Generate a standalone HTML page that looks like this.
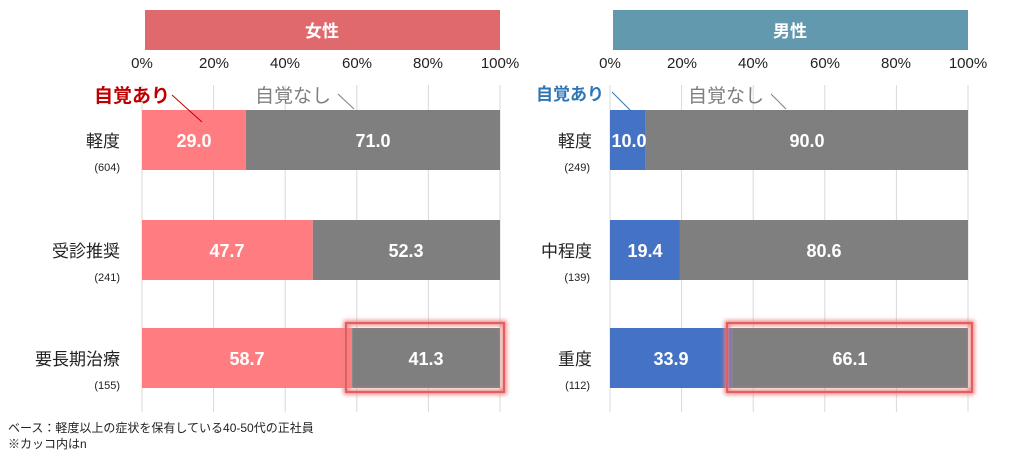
<!DOCTYPE html>
<html><head><meta charset="utf-8"><style>
body{margin:0;background:#fff;}
svg text{font-family:"Liberation Sans","Noto Sans CJK JP",sans-serif;}
</style></head><body>
<svg width="1020" height="470" viewBox="0 0 1020 470" xmlns="http://www.w3.org/2000/svg">
<defs><filter id="g" x="-10%" y="-20%" width="120%" height="140%"><feGaussianBlur stdDeviation="2"/></filter></defs>
<!-- LEFT -->
<rect x="145" y="10" width="355" height="40" fill="#e0696d"/>
<text x="322" y="37" font-size="17" fill="#fff" text-anchor="middle" font-weight="bold">女性</text>
<g font-size="15" fill="#222" text-anchor="middle">
<text x="142" y="68">0%</text><text x="214" y="68">20%</text><text x="285" y="68">40%</text><text x="357" y="68">60%</text><text x="428" y="68">80%</text><text x="500" y="68">100%</text>
</g>
<g stroke="#d9d9d9" stroke-width="1">
<line x1="142" y1="85" x2="142" y2="412"/><line x1="213.6" y1="85" x2="213.6" y2="412"/><line x1="285.2" y1="85" x2="285.2" y2="412"/><line x1="356.8" y1="85" x2="356.8" y2="412"/><line x1="428.4" y1="85" x2="428.4" y2="412"/><line x1="500" y1="85" x2="500" y2="412"/>
</g>
<rect x="142" y="110" width="103.8" height="60" fill="#ff7c80"/><rect x="245.8" y="110" width="254.2" height="60" fill="#7f7f7f"/>
<rect x="142" y="220" width="170.8" height="60" fill="#ff7c80"/><rect x="312.8" y="220" width="187.2" height="60" fill="#7f7f7f"/>
<rect x="142" y="328" width="210.1" height="60" fill="#ff7c80"/><rect x="352.1" y="328" width="147.9" height="60" fill="#7f7f7f"/>
<rect x="346" y="323" width="158" height="69" fill="none" stroke="#f08080" stroke-width="5" filter="url(#g)"/>
<rect x="346" y="323" width="158" height="69" fill="none" stroke="#e06060" stroke-width="2"/>
<g font-size="18" fill="#fff" font-weight="bold" text-anchor="middle">
<text x="194" y="147">29.0</text><text x="373" y="147">71.0</text>
<text x="227" y="257">47.7</text><text x="406" y="257">52.3</text>
<text x="247" y="365">58.7</text><text x="426" y="365">41.3</text>
</g>
<text x="94" y="102" font-size="19" fill="#c00000" font-weight="bold">自覚あり</text>
<line x1="172" y1="95" x2="202" y2="122" stroke="#c00000"/>
<text x="255" y="102" font-size="19" fill="#7f7f7f">自覚なし</text>
<line x1="338" y1="94" x2="354" y2="109" stroke="#7f7f7f"/>
<g font-size="17" fill="#222" text-anchor="end">
<text x="120" y="147">軽度</text><text x="120" y="257">受診推奨</text><text x="120" y="365">要長期治療</text>
</g>
<g font-size="11" fill="#222" text-anchor="end">
<text x="120" y="171">(604)</text><text x="120" y="281">(241)</text><text x="120" y="389">(155)</text>
</g>
<!-- RIGHT -->
<rect x="613" y="10" width="355" height="40" fill="#6399ae"/>
<text x="790" y="37" font-size="17" fill="#fff" text-anchor="middle" font-weight="bold">男性</text>
<g font-size="15" fill="#222" text-anchor="middle">
<text x="610" y="68">0%</text><text x="682" y="68">20%</text><text x="753" y="68">40%</text><text x="825" y="68">60%</text><text x="896" y="68">80%</text><text x="968" y="68">100%</text>
</g>
<g stroke="#d9d9d9" stroke-width="1">
<line x1="610" y1="85" x2="610" y2="412"/><line x1="681.6" y1="85" x2="681.6" y2="412"/><line x1="753.2" y1="85" x2="753.2" y2="412"/><line x1="824.8" y1="85" x2="824.8" y2="412"/><line x1="896.4" y1="85" x2="896.4" y2="412"/><line x1="968" y1="85" x2="968" y2="412"/>
</g>
<rect x="610" y="110" width="35.8" height="60" fill="#4472c4"/><rect x="645.8" y="110" width="322.2" height="60" fill="#7f7f7f"/>
<rect x="610" y="220" width="69.5" height="60" fill="#4472c4"/><rect x="679.5" y="220" width="288.5" height="60" fill="#7f7f7f"/>
<rect x="610" y="328" width="121.4" height="60" fill="#4472c4"/><rect x="731.4" y="328" width="236.6" height="60" fill="#7f7f7f"/>
<rect x="727" y="323" width="245" height="69" fill="none" stroke="#f08080" stroke-width="5" filter="url(#g)"/>
<rect x="727" y="323" width="245" height="69" fill="none" stroke="#e06060" stroke-width="2"/>
<g font-size="18" fill="#fff" font-weight="bold" text-anchor="middle">
<text x="629" y="147">10.0</text><text x="807" y="147">90.0</text>
<text x="645" y="257">19.4</text><text x="824" y="257">80.6</text>
<text x="671" y="365">33.9</text><text x="850" y="365">66.1</text>
</g>
<text x="536" y="100" font-size="17" fill="#2e75b6" font-weight="bold">自覚あり</text>
<line x1="612" y1="92" x2="632" y2="112" stroke="#2e75b6"/>
<text x="688" y="102" font-size="19" fill="#7f7f7f">自覚なし</text>
<line x1="771" y1="94" x2="786" y2="109" stroke="#7f7f7f"/>
<g font-size="17" fill="#222" text-anchor="end">
<text x="592" y="147">軽度</text><text x="592" y="257">中程度</text><text x="592" y="365">重度</text>
</g>
<g font-size="11" fill="#222" text-anchor="end">
<text x="590" y="171">(249)</text><text x="590" y="281">(139)</text><text x="590" y="389">(112)</text>
</g>
<text x="8" y="432" font-size="12" fill="#222">ベース：軽度以上の症状を保有している40-50代の正社員</text>
<text x="8" y="448" font-size="12" fill="#222">※カッコ内はn</text>
</svg>
</body></html>
